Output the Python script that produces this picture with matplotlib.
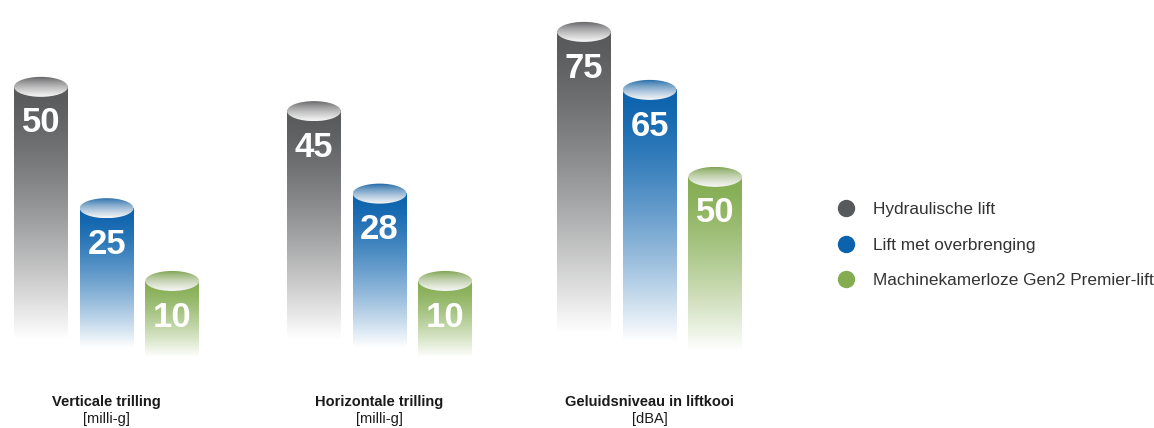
import numpy as np
import matplotlib.pyplot as plt
from matplotlib.patches import Ellipse
from matplotlib.colors import to_rgb
from matplotlib.lines import Line2D

# data
groups = ['Verticale trilling', 'Horizontale trilling', 'Geluidsniveau in liftkooi']
units = ['[milli-g]', '[milli-g]', '[dBA]']
series = ['Hydraulische lift', 'Lift met overbrenging', 'Machinekamerloze Gen2 Premier-lift']
hydraulic = [50, 45, 75]
geared = [25, 28, 65]
gen2 = [10, 10, 50]
colors = ['#58595b', '#0b62ad', '#84ad52']

# layout per group (pixels / value ranges)
W, H = 1154, 428
ax_left = [1.6, 274.6, 544.6]
ax_width = 210
ylims = [(-20.3, 67.9), (-20.3, 67.9), (6.7, 80.5)]
base = [-2.0, -2.0, 23.0]
drop = [1.8, 1.8, 1.5]
bar_w = 0.82
cap_px = 20

plt.rcParams['font.family'] = ['Liberation Sans', 'DejaVu Sans']

fig = plt.figure(figsize=(W / 100, H / 100), dpi=100)

t = np.linspace(0, 1, 256)[:, None]
white = np.ones(3)

for g in range(3):
    ax = fig.add_axes([ax_left[g] / W, 0, ax_width / W, 1])
    ax.axis('off')
    cap_h = cap_px * (ylims[g][1] - ylims[g][0]) / H
    vals = [hydraulic[g], geared[g], gen2[g]]
    for i, v in enumerate(vals):
        c = np.array(to_rgb(colors[i]))
        bottom = base[g] - drop[g] * i
        # body gradient, colour at top fading to white at the bottom
        s = t ** 1.35
        body = (c * (1 - s) + white * s).reshape(256, 1, 3)
        ax.imshow(body, extent=(i - bar_w / 2, i + bar_w / 2, bottom, v),
                  aspect='auto', origin='upper', zorder=2, interpolation='bilinear')
        # cap: dark at the back, light at the front
        sc = t ** 0.7
        cap = (c * 0.92 * (1 - sc) + white * 0.97 * sc).reshape(256, 1, 3)
        ell = Ellipse((i, v), bar_w, cap_h, transform=ax.transData)
        im = ax.imshow(cap, extent=(i - bar_w / 2, i + bar_w / 2, v - cap_h / 2, v + cap_h / 2),
                       aspect='auto', origin='upper', zorder=3, interpolation='bilinear')
        im.set_clip_path(ell)
        ax.annotate(str(v), (i, v), xytext=(0, -26), textcoords='offset points',
                    ha='center', va='center', color='white', fontsize=25,
                    fontweight='bold', zorder=4)
    ax.set_xlim(-0.6, 2.6)
    ax.set_ylim(*ylims[g])
    tr = ax.get_xaxis_transform()
    ax.text(1, 1 - 402 / H, groups[g], transform=tr, ha='center', va='center',
            fontsize=10.5, fontweight='bold', color='#1a1a1a')
    ax.text(1, 1 - 419 / H, units[g], transform=tr, ha='center', va='center',
            fontsize=10.5, color='#1a1a1a')

handles = [Line2D([], [], marker='o', linestyle='none', markersize=11.5,
                  markerfacecolor=c, markeredgecolor=c) for c in colors]
fig.legend(handles, series, loc='center left', bbox_to_anchor=(820 / W, 1 - 245 / H),
           frameon=False, fontsize=12.4, handlelength=1.2, handletextpad=0.95,
           labelspacing=1.2, labelcolor='#333333')

fig.savefig('out.png', dpi=100)
